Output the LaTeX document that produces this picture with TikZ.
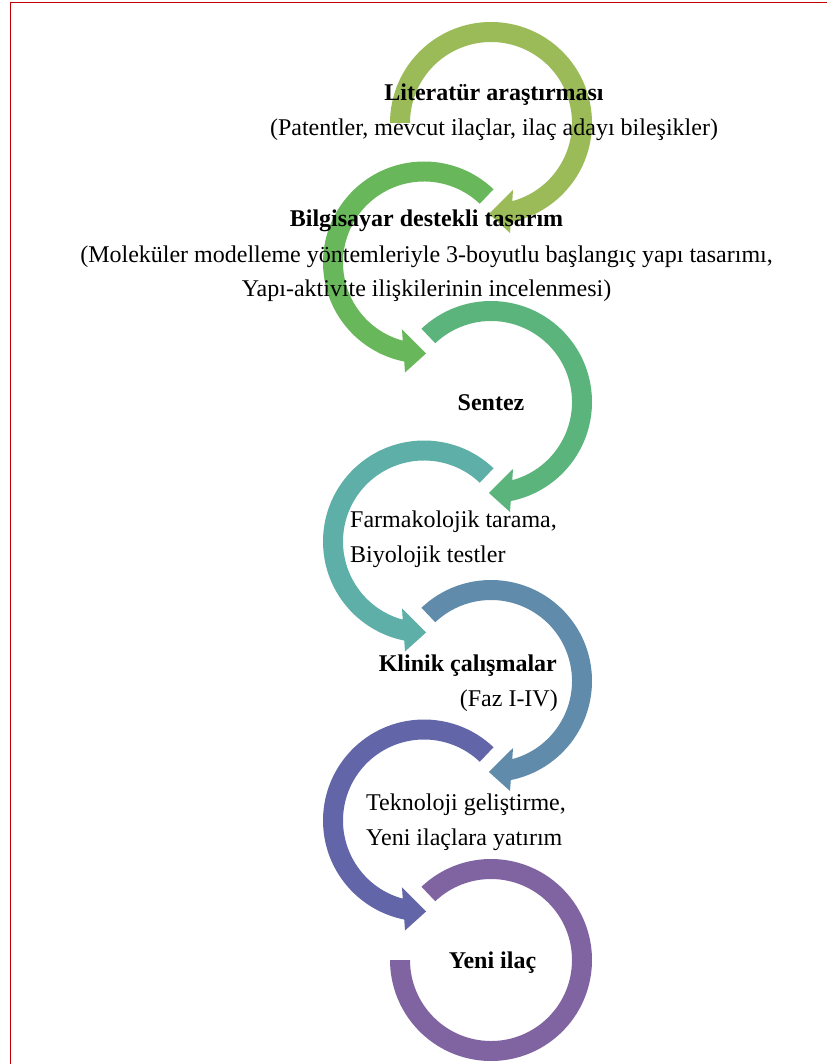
\documentclass[tikz,border=0pt]{standalone}
\usepackage{fontspec}
\setmainfont{Liberation Serif}
\definecolor{frame}{HTML}{C00000}
\definecolor{c1}{HTML}{9BBB59}
\definecolor{c2}{HTML}{69B75B}
\definecolor{c3}{HTML}{5CB47D}
\definecolor{c4}{HTML}{5EAFA7}
\definecolor{c5}{HTML}{608BAB}
\definecolor{c6}{HTML}{6266A8}
\definecolor{c7}{HTML}{8064A2}
\begin{document}
\begin{tikzpicture}[x=1pt,y=1pt,
  lbl/.style={inner sep=0pt, font=\fontsize{24}{35}\selectfont},
  boldlbl/.style={inner sep=0pt, font=\fontsize{24}{35}\selectfont\bfseries},
  % circular band running clockwise from the given start angle, ending in an arrowhead
  ringarrow/.style={insert path={
    (#1:101) arc[start angle=#1, end angle=-78.7, radius=101]
    -- (-80.2:111.6) -- (-91.3:91) -- (-71.8:70.5)
    -- (-74.8:81) arc[start angle=-74.8, end angle=#1, radius=81] -- cycle}}]
\useasboundingbox (0,0) rectangle (827,-1064);
\fill[white] (0,0) rectangle (827,-1064);
\draw[frame, line width=1.4pt] (10.5,-1064) -- (10.5,-2.5) -- (827,-2.5);

% rings, alternating right (clockwise) and left (mirrored)
\begin{scope}[shift={(491,-123)}]
  \fill[c1, ringarrow=180];
\end{scope}
\begin{scope}[shift={(424,-262.5)}, xscale=-1]
  \fill[c2, ringarrow=133.5];
\end{scope}
\begin{scope}[shift={(491,-402)}]
  \fill[c3, ringarrow=133.5];
\end{scope}
\begin{scope}[shift={(424,-541.5)}, xscale=-1]
  \fill[c4, ringarrow=133.5];
\end{scope}
\begin{scope}[shift={(491,-681)}]
  \fill[c5, ringarrow=133.5];
\end{scope}
\begin{scope}[shift={(424,-820.5)}, xscale=-1]
  \fill[c6, ringarrow=133.5];
\end{scope}
\begin{scope}[shift={(491,-960)}]
  \fill[c7] (133.5:101) arc[start angle=133.5, end angle=-180, radius=101]
    -- (180:81) arc[start angle=-180, end angle=133.5, radius=81] -- cycle;
\end{scope}

% labels
\node[boldlbl, anchor=base] (t1) at (494,-101) {Literatür araştırması};
\node[lbl, anchor=base] (t1b) at (494,-136) {(Patentler, mevcut ilaçlar, ilaç adayı bileşikler)};
\node[boldlbl, anchor=base] (t2) at (426.5,-227) {Bilgisayar destekli tasarım};
\node[lbl, anchor=base] (t2b) at (426.5,-262) {(Moleküler modelleme yöntemleriyle 3-boyutlu başlangıç yapı tasarımı,};
\node[lbl, anchor=base] (t2c) at (426.5,-297) {Yapı-aktivite ilişkilerinin incelenmesi)};
\node[boldlbl, anchor=base] (t3) at (491,-410) {Sentez};
\node[lbl, anchor=base west] (t4) at (350,-527) {Farmakolojik tarama,};
\node[lbl, anchor=base west] (t4b) at (350,-562) {Biyolojik testler};
\node[boldlbl, anchor=base east] (t5) at (557,-671) {Klinik çalışmalar};
\node[lbl, anchor=base east] (t5b) at (558,-706) {(Faz I-IV)};
\node[lbl, anchor=base west] (t6) at (366,-810) {Teknoloji geliştirme,};
\node[lbl, anchor=base west] (t6b) at (366,-845) {Yeni ilaçlara yatırım};
\node[boldlbl, anchor=base] (t7) at (492.5,-968) {Yeni ilaç};
\end{tikzpicture}
\end{document}
